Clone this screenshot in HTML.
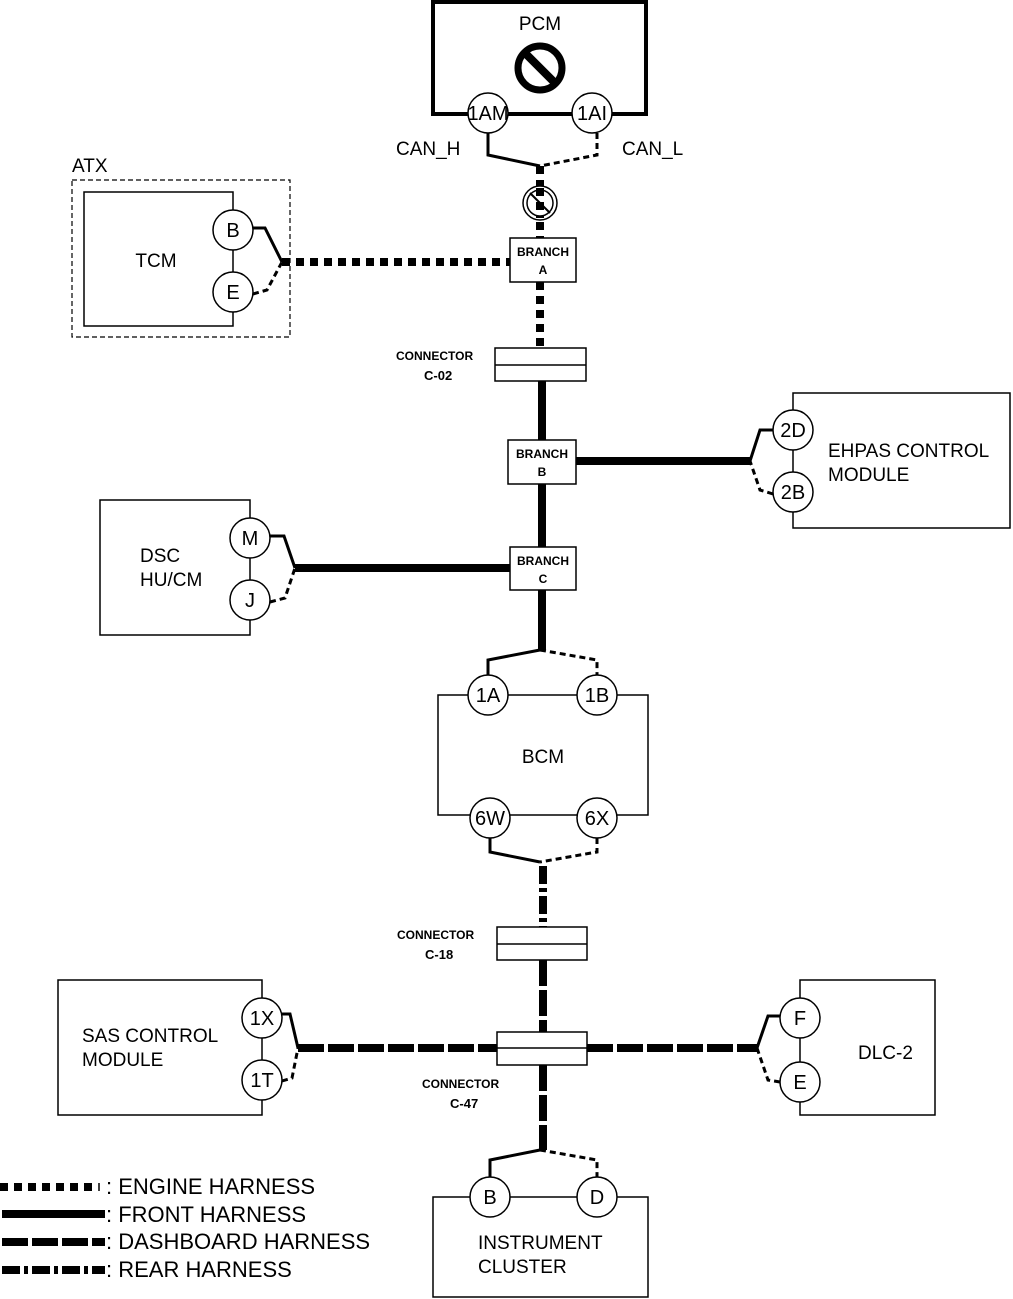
<!DOCTYPE html>
<html><head><meta charset="utf-8"><style>html,body{margin:0;padding:0;background:#fff}svg{display:block}text{font-family:"Liberation Sans",Arial,sans-serif;fill:#000}</style></head>
<body>
<svg width="1013" height="1299" viewBox="0 0 1013 1299" xmlns="http://www.w3.org/2000/svg">
<defs>
<style>
.eng{stroke:#000;stroke-width:8;fill:none;stroke-dasharray:8 6}
.frt{stroke:#000;stroke-width:8;fill:none}
.dsh{stroke:#000;stroke-width:8;fill:none;stroke-dasharray:26 4}
.rear{stroke:#000;stroke-width:8;fill:none;stroke-dasharray:18 4 4 4}
.w{stroke:#000;stroke-width:3;fill:none}
.wd{stroke:#000;stroke-width:3;fill:none;stroke-dasharray:6 4}
.box{stroke:#000;stroke-width:1.5;fill:#fff}
.c{stroke:#000;stroke-width:1.5;fill:#fff}
.cl{font-size:20px;text-anchor:middle}
.lb{font-size:19px}
.sm{font-size:12px;font-weight:bold}
</style>
</defs>

<!-- PCM -->
<rect x="433" y="2" width="213" height="112" fill="#fff" stroke="#000" stroke-width="4"/>
<text x="540" y="30" class="lb" text-anchor="middle">PCM</text>
<circle cx="540" cy="68" r="22" fill="none" stroke="#000" stroke-width="7"/>
<line x1="525" y1="53" x2="555" y2="83" stroke="#000" stroke-width="8"/>
<circle cx="488" cy="113" r="20" class="c"/><text x="488" y="120" class="cl">1AM</text>
<circle cx="592" cy="113" r="20" class="c"/><text x="592" y="120" class="cl">1AI</text>
<text x="396" y="155" class="lb">CAN_H</text>
<text x="622" y="155" class="lb">CAN_L</text>
<polyline points="488,133 488,155 540,166" class="w"/>
<polyline points="597,133 597,155 540,166" class="wd"/>
<line x1="540" y1="166" x2="540" y2="238" class="eng"/>
<circle cx="540" cy="203" r="17" fill="#fff" stroke="#000" stroke-width="1.5"/>
<circle cx="540" cy="203" r="13" fill="none" stroke="#000" stroke-width="1.5"/>
<line x1="540" y1="188" x2="540" y2="218" class="eng"/>
<line x1="530" y1="193" x2="550" y2="213" stroke="#000" stroke-width="2"/>

<!-- ATX/TCM -->
<rect x="72" y="180" width="218" height="157" fill="none" stroke="#000" stroke-width="1.2" stroke-dasharray="5 3"/>
<text x="72" y="172" class="lb">ATX</text>
<rect x="84" y="192" width="149" height="134" class="box"/>
<text x="156" y="267" class="lb" text-anchor="middle">TCM</text>
<circle cx="233" cy="230" r="20" class="c"/><text x="233" y="237" class="cl">B</text>
<circle cx="233" cy="292" r="20" class="c"/><text x="233" y="299" class="cl">E</text>
<polyline points="253,228 265,228 282,262" class="w"/>
<polyline points="253,294 267,290 282,262" class="wd"/>
<line x1="282" y1="262" x2="510" y2="262" class="eng"/>

<!-- Branch A -->
<rect x="510" y="238" width="66" height="44" class="box"/>
<text x="543" y="256" class="sm" text-anchor="middle">BRANCH</text>
<text x="543" y="274" class="sm" text-anchor="middle">A</text>
<line x1="540" y1="282" x2="540" y2="348" class="eng"/>

<!-- C-02 -->
<rect x="495" y="348" width="91" height="33" class="box"/>
<line x1="495" y1="365" x2="586" y2="365" stroke="#000" stroke-width="1.5"/>
<text x="396" y="360" class="sm">CONNECTOR</text>
<text x="424" y="380" class="sm" style="font-size:13px">C-02</text>
<line x1="542" y1="381" x2="542" y2="440" class="frt"/>

<!-- Branch B -->
<rect x="508" y="440" width="68" height="44" class="box"/>
<text x="542" y="458" class="sm" text-anchor="middle">BRANCH</text>
<text x="542" y="476" class="sm" text-anchor="middle">B</text>
<line x1="576" y1="461" x2="750" y2="461" class="frt"/>
<rect x="793" y="393" width="217" height="135" class="box"/>
<text x="828" y="457" class="lb">EHPAS CONTROL</text>
<text x="828" y="481" class="lb">MODULE</text>
<circle cx="793" cy="430" r="20" class="c"/><text x="793" y="437" class="cl">2D</text>
<circle cx="793" cy="492" r="20" class="c"/><text x="793" y="499" class="cl">2B</text>
<polyline points="773,430 760,430 750,461" class="w"/>
<polyline points="773,494 760,490 750,461" class="wd"/>
<line x1="542" y1="484" x2="542" y2="547" class="frt"/>

<!-- Branch C -->
<rect x="510" y="547" width="66" height="43" class="box"/>
<text x="543" y="565" class="sm" text-anchor="middle">BRANCH</text>
<text x="543" y="583" class="sm" text-anchor="middle">C</text>
<line x1="295" y1="568" x2="510" y2="568" class="frt"/>
<rect x="100" y="500" width="150" height="135" class="box"/>
<text x="140" y="562" class="lb">DSC</text>
<text x="140" y="586" class="lb">HU/CM</text>
<circle cx="250" cy="538" r="20" class="c"/><text x="250" y="545" class="cl">M</text>
<circle cx="250" cy="600" r="20" class="c"/><text x="250" y="607" class="cl">J</text>
<polyline points="270,536 284,536 295,568" class="w"/>
<polyline points="270,602 285,598 295,568" class="wd"/>
<line x1="542" y1="590" x2="542" y2="650" class="frt"/>

<!-- BCM -->
<polyline points="540,650 488,660 488,676" class="w"/>
<polyline points="540,650 597,660 597,676" class="wd"/>
<rect x="438" y="695" width="210" height="120" class="box"/>
<text x="543" y="763" class="lb" text-anchor="middle">BCM</text>
<circle cx="488" cy="695" r="20" class="c"/><text x="488" y="702" class="cl">1A</text>
<circle cx="597" cy="695" r="20" class="c"/><text x="597" y="702" class="cl">1B</text>
<circle cx="490" cy="818" r="20" class="c"/><text x="490" y="825" class="cl">6W</text>
<circle cx="597" cy="818" r="20" class="c"/><text x="597" y="825" class="cl">6X</text>
<polyline points="490,838 490,852 540,862" class="w"/>
<polyline points="597,838 597,852 540,862" class="wd"/>
<line x1="543" y1="866" x2="543" y2="927" class="rear"/>

<!-- C-18 -->
<rect x="497" y="927" width="90" height="33" class="box"/>
<line x1="497" y1="944" x2="587" y2="944" stroke="#000" stroke-width="1.5"/>
<text x="397" y="939" class="sm">CONNECTOR</text>
<text x="425" y="959" class="sm" style="font-size:13px">C-18</text>
<line x1="543" y1="960" x2="543" y2="1032" class="dsh"/>

<!-- C-47 -->
<line x1="298" y1="1048" x2="497" y2="1048" class="dsh"/>
<line x1="587" y1="1048" x2="757" y2="1048" class="dsh"/>
<rect x="497" y="1032" width="90" height="33" class="box"/>
<line x1="497" y1="1048" x2="587" y2="1048" stroke="#000" stroke-width="1.5"/>
<text x="422" y="1088" class="sm">CONNECTOR</text>
<text x="450" y="1108" class="sm" style="font-size:13px">C-47</text>
<line x1="543" y1="1065" x2="543" y2="1150" class="dsh"/>

<!-- SAS -->
<rect x="58" y="980" width="204" height="135" class="box"/>
<text x="82" y="1042" class="lb">SAS CONTROL</text>
<text x="82" y="1066" class="lb">MODULE</text>
<circle cx="262" cy="1018" r="20" class="c"/><text x="262" y="1025" class="cl">1X</text>
<circle cx="262" cy="1080" r="20" class="c"/><text x="262" y="1087" class="cl">1T</text>
<polyline points="282,1014 290,1014 298,1048" class="w"/>
<polyline points="282,1081 292,1078 298,1048" class="wd"/>

<!-- DLC-2 -->
<rect x="800" y="980" width="135" height="135" class="box"/>
<text x="858" y="1059" class="lb">DLC-2</text>
<circle cx="800" cy="1018" r="20" class="c"/><text x="800" y="1025" class="cl">F</text>
<circle cx="800" cy="1082" r="20" class="c"/><text x="800" y="1089" class="cl">E</text>
<polyline points="780,1016 768,1016 757,1048" class="w"/>
<polyline points="780,1082 768,1080 757,1048" class="wd"/>

<!-- Instrument -->
<polyline points="540,1150 490,1160 490,1177" class="w"/>
<polyline points="540,1150 597,1160 597,1177" class="wd"/>
<rect x="433" y="1197" width="215" height="100" class="box"/>
<text x="478" y="1249" class="lb">INSTRUMENT</text>
<text x="478" y="1273" class="lb">CLUSTER</text>
<circle cx="490" cy="1197" r="20" class="c"/><text x="490" y="1204" class="cl">B</text>
<circle cx="597" cy="1197" r="20" class="c"/><text x="597" y="1204" class="cl">D</text>

<!-- Legend -->
<line x1="0" y1="1187" x2="80" y2="1187" class="eng"/>
<line x1="84" y1="1187" x2="94" y2="1187" class="eng"/>
<line x1="99" y1="1183" x2="99" y2="1191" stroke="#000" stroke-width="1.5"/>
<text x="106" y="1194" style="font-size:22px">: ENGINE HARNESS</text>
<line x1="2" y1="1214" x2="105" y2="1214" class="frt"/>
<text x="106" y="1222" style="font-size:22px">: FRONT HARNESS</text>
<line x1="2" y1="1242" x2="105" y2="1242" class="dsh"/>
<text x="106" y="1249" style="font-size:22px">: DASHBOARD HARNESS</text>
<line x1="2" y1="1270" x2="105" y2="1270" class="rear"/>
<text x="106" y="1277" style="font-size:22px">: REAR HARNESS</text>
</svg>
</body></html>
